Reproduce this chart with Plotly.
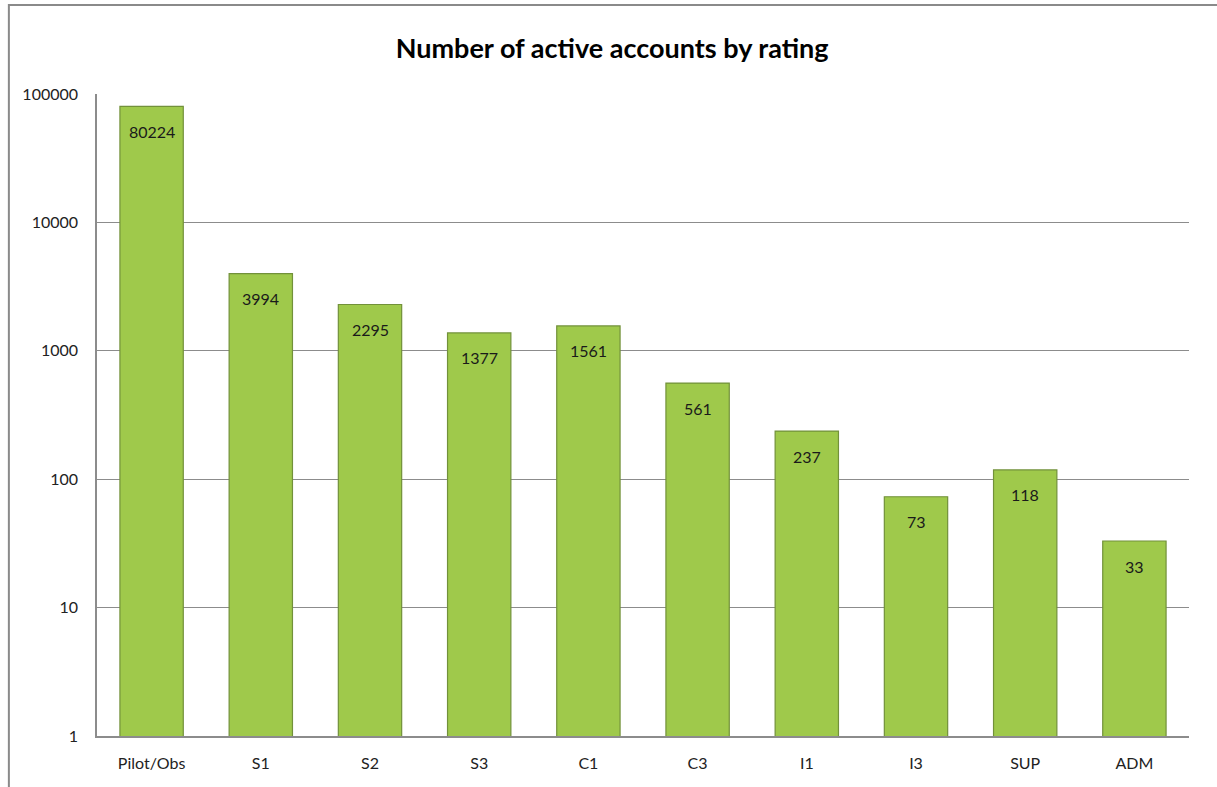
import math
import plotly.graph_objects as go

# Dati: categorie di rating e numero di account attivi
ratings = ['Pilot/Obs', 'S1', 'S2', 'S3', 'C1', 'C3', 'I1', 'I3', 'SUP', 'ADM']
accounts = [80224, 3994, 2295, 1377, 1561, 561, 237, 73, 118, 33]
y_ticks = [1, 10, 100, 1000, 10000, 100000]

FONT = "Lato, 'Noto Sans', sans-serif"
GRID = '#8c8c8c'

fig = go.Figure()
fig.add_trace(go.Bar(
    x=ratings, y=accounts,
    marker=dict(color='#9fc94b', line=dict(color='#72913a', width=1.2)),
    width=0.58,
))

# Etichette dei valori, poste all'interno della barra poco sotto la cima
annotations = [dict(x=r, y=math.log10(v), text=str(v), showarrow=False,
                    yshift=-25, font=dict(family=FONT, size=16, color='#1a1a1a'))
               for r, v in zip(ratings, accounts)]

fig.update_layout(
    width=1217, height=787,
    paper_bgcolor='white', plot_bgcolor='white',
    margin=dict(l=97, r=28, t=94, b=51),
    showlegend=False,
    title=dict(text='<b>Number of active accounts by rating</b>', x=0.503, xanchor='center',
               yref='container', y=0.938, yanchor='middle',
               font=dict(family=FONT, size=27, color='black')),
    font=dict(family=FONT, size=16, color='#222'),
    xaxis=dict(showline=True, linecolor=GRID, linewidth=1.5, ticks='',
               tickfont=dict(size=16), showgrid=False, ticklabelstandoff=12),
    yaxis=dict(type='log', range=[0, 5], tickvals=y_ticks, ticktext=[str(t) for t in y_ticks],
               showline=True, linecolor=GRID, linewidth=1.5, showgrid=True,
               gridcolor=GRID, gridwidth=1.2, ticks='', ticklabelstandoff=14,
               tickfont=dict(size=16), zeroline=False),
    annotations=annotations,
    # Cornice esterna del grafico (tagliata a destra e in basso come nell'originale)
    shapes=[dict(type='rect', xref='paper', yref='paper',
                 x0=-0.0807, x1=1.05, y0=-0.12, y1=1.1386,
                 line=dict(color='#8a8a8a', width=2), fillcolor='rgba(0,0,0,0)', layer='below')],
)

# Rimuove il margine di default del body così la figura parte da (0, 0)
fig.write_html("out.html", config={'displayModeBar': False},
               post_script="document.body.style.margin='0';")
